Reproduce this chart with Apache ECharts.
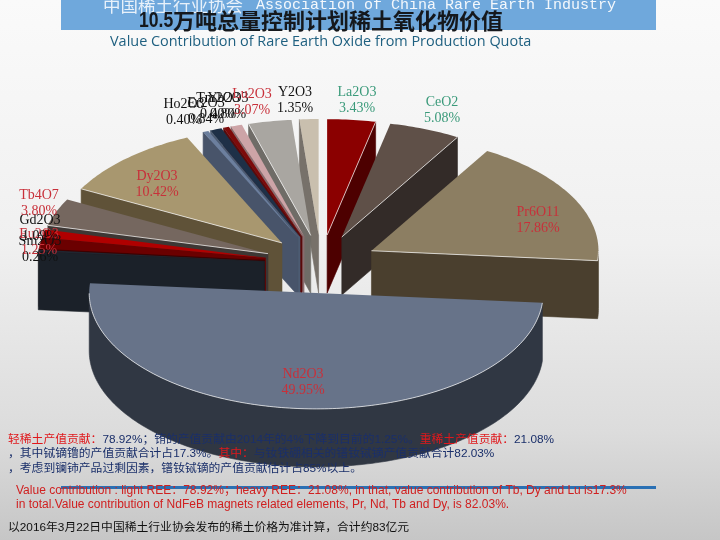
<!DOCTYPE html>
<html><head><meta charset="utf-8">
<style>html,body{margin:0;padding:0;background:#eee}#c{width:720px;height:540px}</style>
<script src="https://cdn.jsdelivr.net/npm/echarts@6/dist/echarts.min.js"></script>
</head><body><div id="c"></div>
<script>
// ---- chart data ----
const oxides = ['La2O3','CeO2','Pr6O11','Nd2O3','Sm2O3','Eu2O3','Gd2O3','Tb4O7','Dy2O3','Ho2O3','Er2O3','Tm2O3','Yb2O3','Lu2O3','Y2O3'];
const shares = [3.43,5.08,17.86,49.95,0.26,1.25,1.09,3.80,10.42,0.40,0.84,0.40,0.80,3.07,1.35];

// ---- styling, separate from the data ----
const topColors  = ['#8b0000','#5f5048','#8c7e62','#677389','#1f2630','#6b0000','#b00000','#75675f','#a8976f','#6c7f9e','#1e3047','#7d0a0a','#cda4a7','#a9a6a1','#c9bfae'];
const wallColors = ['#4d0000','#332b28','#4a3f2e','#303743','#1b2129','#3d0000','#6b0000','#3d3734','#5f5238','#48546a','#4d5c73','#5a0a0a','#8a6d6f','#6f6c67','#77716a'];
const GREEN='#3a9a7a', RED='#c8303a', BLACK='#111';
const labelColors = [GREEN,GREEN,RED,RED,BLACK,RED,BLACK,RED,RED,BLACK,BLACK,BLACK,BLACK,RED,BLACK];
const labelCentres = [[357,92],[442,102],[538,212],[303,374],[40,241],[39,234],[40,220],[39,195],[157,176],[184,104],[206,103],[218,98],[228,98],[252,94],[295,92]];
const EXPLODE = 0.25, DEPTH = 0.5, RANGE = 1.4, RX = 227, RY = 116, CX = 321, CY = 264;

let running = 0;
const rows = shares.map((s,i)=>{ const r=[s,running,i]; running+=s; return r; });
const pct = v => v.toFixed(2)+'%';

function closeness(i){
  const mid = (rows[i][1]+rows[i][0]/2)*3.6;
  return Math.min(mid,360-mid);
}
const order = rows.map((r,i)=>i).sort((a,b)=>closeness(a)-closeness(b));

function renderItem(params, api){
  const share = api.value(0), start = api.value(1), i = api.value(2);
  const a0 = start/100*2*Math.PI, a1 = (start+share)/100*2*Math.PI, mid=(a0+a1)/2;
  const ox = EXPLODE*Math.sin(mid), oy = EXPLODE*Math.cos(mid);
  const at = (r,a)=>api.coord([ox+r*Math.sin(a), oy+r*Math.cos(a)]);
  const dy = api.coord([0,-DEPTH])[1]-api.coord([0,0])[1];
  const outline=[at(0,0)];
  const steps=Math.max(1,Math.ceil((a1-a0)/(Math.PI/180)));
  for(let s=0;s<=steps;s++) outline.push(at(1,a0+(a1-a0)*s/steps));
  const rank = order.indexOf(i)*4+1;
  const children=[];
  const runs=[]; let cur=null;
  for(let k=0;k<outline.length;k++){
    const p=outline[k], q=outline[(k+1)%outline.length];
    if(q[0]<p[0]){
      if(!cur){cur=[p]; runs.push(cur);}
      cur.push(q);
    } else cur=null;
  }
  for(const run of runs){
    const lower=run.slice().reverse().map(p=>[p[0],p[1]+dy]);
    children.push({type:'polygon',z2:rank,silent:true,
      shape:{points:run.concat(lower)},
      style:{fill:wallColors[i],stroke:wallColors[i],lineWidth:0.6}});
    if(share>=3) children.push({type:'polyline',z2:rank+2,silent:true,
      shape:{points:run},style:{fill:null,stroke:'#fff',lineWidth:1,opacity:0.7}});
  }
  children.push({type:'polygon',z2:rank+1,shape:{points:outline},style:{fill:topColors[i]}});
  const c=labelCentres[i];
  const font='14px "Liberation Serif"';
  children.push({type:'text',z2:2000,x:c[0],y:c[1],silent:true,style:{text:oxides[i],fill:labelColors[i],font,align:'center',verticalAlign:'middle'}});
  children.push({type:'text',z2:2000,x:c[0],y:c[1]+16,silent:true,style:{text:pct(share),fill:labelColors[i],font,align:'center',verticalAlign:'middle'}});
  return {type:'group',children};
}

const CJK='"Noto Sans CJK SC"', MIX='"Liberation Sans","Noto Sans CJK SC"', NAVY='#1a2f6a', TXTRED='#e0181c';
const bodyFont='11.8px '+MIX;
const rich={r:{fill:TXTRED,font:bodyFont},n:{fill:NAVY,font:bodyFont}};
function txt(x,y,text,extra,more){return Object.assign({type:'text',x,y,z:100,silent:true,style:Object.assign({text,verticalAlign:'middle'},extra)},more||{});}

const chart=echarts.init(document.getElementById('c'),null,{renderer:'canvas'});
chart.setOption({
  animation:false,
  backgroundColor:{type:'linear',x:0,y:0,x2:0,y2:1,colorStops:[
    {offset:0,color:'#fafafa'},{offset:0.45,color:'#f0f0f0'},{offset:0.8,color:'#dcdcdc'},{offset:1,color:'#c6c6c6'}]},
  grid:{left:CX-RANGE*RX,width:2*RANGE*RX,top:CY-RANGE*RY,height:2*RANGE*RY},
  xAxis:{type:'value',min:-RANGE,max:RANGE,show:false},
  yAxis:{type:'value',min:-RANGE,max:RANGE,show:false},
  series:[{type:'custom',coordinateSystem:'cartesian2d',clip:false,renderItem,data:rows,silent:true,
    encode:{x:-1,y:-1}}],
  graphic:[
    {type:'rect',z:1,shape:{x:61,y:0,width:595,height:30},style:{fill:'#6fa8dc'},silent:true},
    txt(103,5,'中国稀土行业协会',{fill:'#e8f1fa',font:'17.5px '+CJK}),
    txt(256,5,'Association of China Rare Earth Industry',{fill:'#f4f8fc',font:'15px "Liberation Mono"'}),
    txt(139,21,'10.5',{fill:'#15181c',font:'bold 22px "Liberation Sans"'},{scaleX:0.8}),
    txt(173,21,'万吨总量控制计划稀土氧化物价值',{fill:'#15181c',font:'bold 22px '+CJK}),
    txt(110,42,'Value Contribution of Rare Earth Oxide from Production Quota',{fill:'#1f6080',font:'14.45px "Open Sans"'}),
    txt(8,440,'{r|轻稀土产值贡献：}{n|78.92%；铕的产值贡献由2014年的4%下降到目前的1.25%。}{r|重稀土产值贡献：}{n|21.08%}',{rich}),
    txt(8,454,'{n|，其中铽镝镥的产值贡献合计占17.3%。}{r|其中：}{n|与钕铁硼相关的镨钕铽镝产值贡献合计82.03%}',{rich}),
    txt(8,469,'，考虑到镧铈产品过剩因素，镨钕铽镝的产值贡献估计占85%以上。',{fill:NAVY,font:bodyFont}),
    {type:'rect',z:90,shape:{x:61,y:486,width:595,height:3},style:{fill:'#2a70b4'},silent:true},
    txt(16,491,'Value contribution : light REE：78.92%；heavy REE：21.08%, in that, value contribution of Tb, Dy and Lu is17.3%',{fill:'#d02020',font:'12px "Liberation Sans","Noto Sans CJK SC"'}),
    txt(16,505,'in total.Value contribution of NdFeB magnets related elements, Pr, Nd, Tb and Dy, is 82.03%.',{fill:'#d02020',font:'12px "Liberation Sans"'}),
    txt(8,528,'以2016年3月22日中国稀土行业协会发布的稀土价格为准计算，合计约83亿元',{fill:'#111',font:'11.8px '+MIX})
  ]
});
</script></body></html>
